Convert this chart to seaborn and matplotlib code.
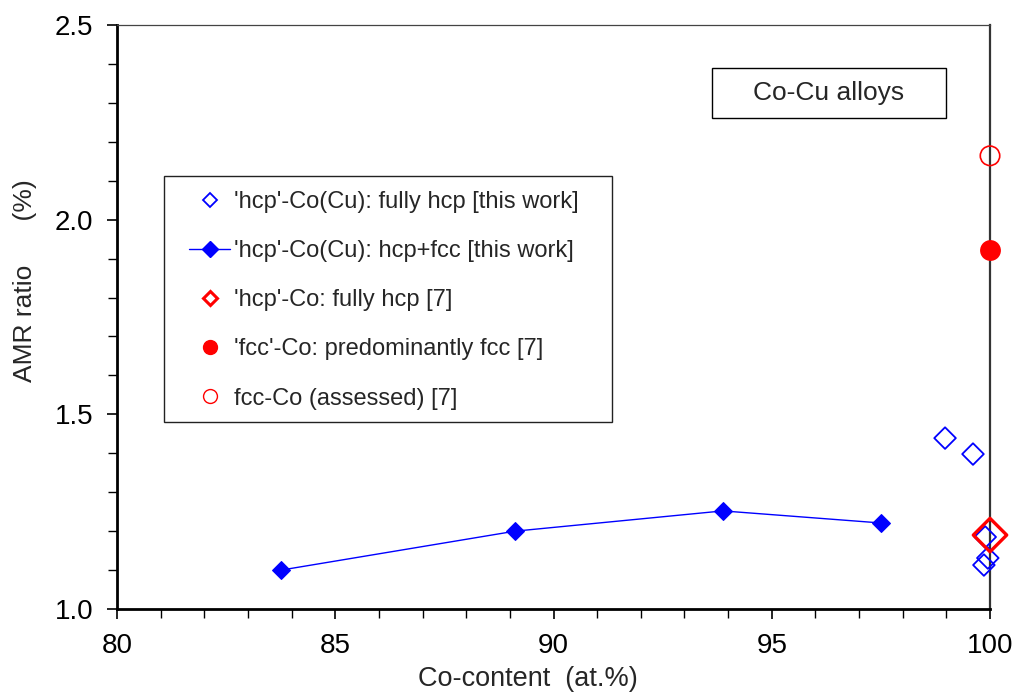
import matplotlib
matplotlib.use("Agg")
import matplotlib.pyplot as plt
from matplotlib.lines import Line2D
from matplotlib.patches import Rectangle
from matplotlib.ticker import MultipleLocator, FormatStrFormatter
import seaborn as sns

# Co content (at.%) and AMR ratio (%) per sample group
hcp_full_x = [98.97, 99.61, 99.89, 99.95, 99.86]
hcp_full_y = [1.439, 1.398, 1.185, 1.131, 1.113]

hcp_fcc_x = [83.76, 89.12, 93.88, 97.50]
hcp_fcc_y = [1.100, 1.200, 1.252, 1.221]

ref_hcp_x = [100.0]
ref_hcp_y = [1.19]

ref_fcc_x = [100.0]
ref_fcc_y = [1.922]

ref_fcc_assessed_x = [100.0]
ref_fcc_assessed_y = [2.164]

labels = [
    "'hcp'-Co(Cu): fully hcp [this work]",
    "'hcp'-Co(Cu): hcp+fcc [this work]",
    "'hcp'-Co: fully hcp [7]",
    "'fcc'-Co: predominantly fcc [7]",
    "fcc-Co (assessed) [7]",
]

sns.set_style("white")
plt.rcParams["font.family"] = ["Liberation Sans", "DejaVu Sans"]

fig = plt.figure(figsize=(10.2, 6.92), dpi=100)
ax = fig.add_axes([0.1147, 0.1199, 0.9706 - 0.1147, 0.9639 - 0.1199])

blue = "#0000ff"
red = "#ff0000"

sns.lineplot(x=hcp_fcc_x, y=hcp_fcc_y, ax=ax, color=blue, lw=1.0,
             marker="D", markersize=9.5, markeredgecolor=blue,
             markerfacecolor=blue, sort=False, zorder=3)

sns.scatterplot(x=hcp_full_x, y=hcp_full_y, ax=ax, marker="D", s=11 ** 2,
                facecolors="none", edgecolor=blue, linewidth=1.3, zorder=4)

sns.scatterplot(x=ref_hcp_x, y=ref_hcp_y, ax=ax, marker="D", s=17 ** 2,
                facecolors="none", edgecolor=red, linewidth=2.4, zorder=5)

sns.scatterplot(x=ref_fcc_x, y=ref_fcc_y, ax=ax, marker="o", s=15 ** 2,
                color=red, edgecolor=red, linewidth=0, zorder=5)

sns.scatterplot(x=ref_fcc_assessed_x, y=ref_fcc_assessed_y, ax=ax, marker="o",
                s=14 ** 2, facecolors="none", edgecolor=red, linewidth=1.2,
                zorder=5)

for c in ax.collections:
    c.set_clip_on(False)

ax.set_xlim(80, 100)
ax.set_ylim(1.0, 2.5)
ax.xaxis.set_major_locator(MultipleLocator(5))
ax.xaxis.set_minor_locator(MultipleLocator(1))
ax.yaxis.set_major_locator(MultipleLocator(0.5))
ax.yaxis.set_minor_locator(MultipleLocator(0.1))
ax.xaxis.set_major_formatter(FormatStrFormatter("%d"))
ax.yaxis.set_major_formatter(FormatStrFormatter("%.1f"))

ax.tick_params(axis="both", which="both", direction="out", colors="black",
               bottom=True, left=True, top=False, right=False)
ax.tick_params(axis="both", which="major", length=7, width=1.2,
               labelsize=20)
ax.tick_params(axis="x", which="major", pad=10)
ax.tick_params(axis="y", which="major", pad=10)
ax.tick_params(axis="both", which="minor", length=6.5, width=1.0)

for side in ("left", "bottom"):
    ax.spines[side].set_color("black")
    ax.spines[side].set_linewidth(2.0)
ax.spines["top"].set_visible(True)
ax.spines["top"].set_color("#444444")
ax.spines["top"].set_linewidth(0.9)
ax.spines["right"].set_visible(True)
ax.spines["right"].set_color("#333333")
ax.spines["right"].set_linewidth(1.6)

ax.set_xlabel("Co-content  (at.%)", fontsize=19.5)
ax.set_ylabel("AMR ratio      (%)", fontsize=19)
ax.xaxis.set_label_coords(0.471, -0.097)
ax.yaxis.set_label_coords(-0.092, 0.5616)

handles = [
    Line2D([], [], ls="none", marker="D", markersize=7.5, markerfacecolor="none",
           markeredgecolor=blue, markeredgewidth=1.3),
    Line2D([], [], ls="-", lw=1.0, color=blue, marker="D", markersize=8,
           markerfacecolor=blue, markeredgecolor=blue),
    Line2D([], [], ls="none", marker="D", markersize=7.5, markerfacecolor="none",
           markeredgecolor=red, markeredgewidth=2.2),
    Line2D([], [], ls="none", marker="o", markersize=10, markerfacecolor=red,
           markeredgecolor=red),
    Line2D([], [], ls="none", marker="o", markersize=10, markerfacecolor="none",
           markeredgecolor=red, markeredgewidth=1.0),
]

# legend frame drawn as a separate box with wider side margins
fig.patches.append(Rectangle((164 / 1020, 1 - 422 / 692), (612 - 164) / 1020,
                             (422 - 176) / 692, transform=fig.transFigure,
                             facecolor="white", edgecolor="#222222",
                             linewidth=1.0, zorder=0))
ax.set_zorder(1)
ax.patch.set_alpha(0)
fig.patch.set_facecolor("white")

leg = ax.legend(handles, labels, loc="upper left",
                bbox_to_anchor=(189 / 1020, 1 - 191 / 692),
                bbox_transform=fig.transFigure, fontsize=17, frameon=False,
                handlelength=1.74, handletextpad=0.15, labelspacing=1.15,
                borderpad=0, borderaxespad=0)

ax.add_patch(Rectangle((0.6816, 0.8408), 0.9496 - 0.6816, 0.9264 - 0.8408,
                       transform=ax.transAxes, facecolor="white",
                       edgecolor="black", linewidth=1.0, zorder=6))
ax.text(0.8156, 0.8836, "Co-Cu alloys", transform=ax.transAxes, fontsize=19,
        ha="center", va="center", zorder=7)

fig.savefig("out.png", dpi=100, facecolor="white")
